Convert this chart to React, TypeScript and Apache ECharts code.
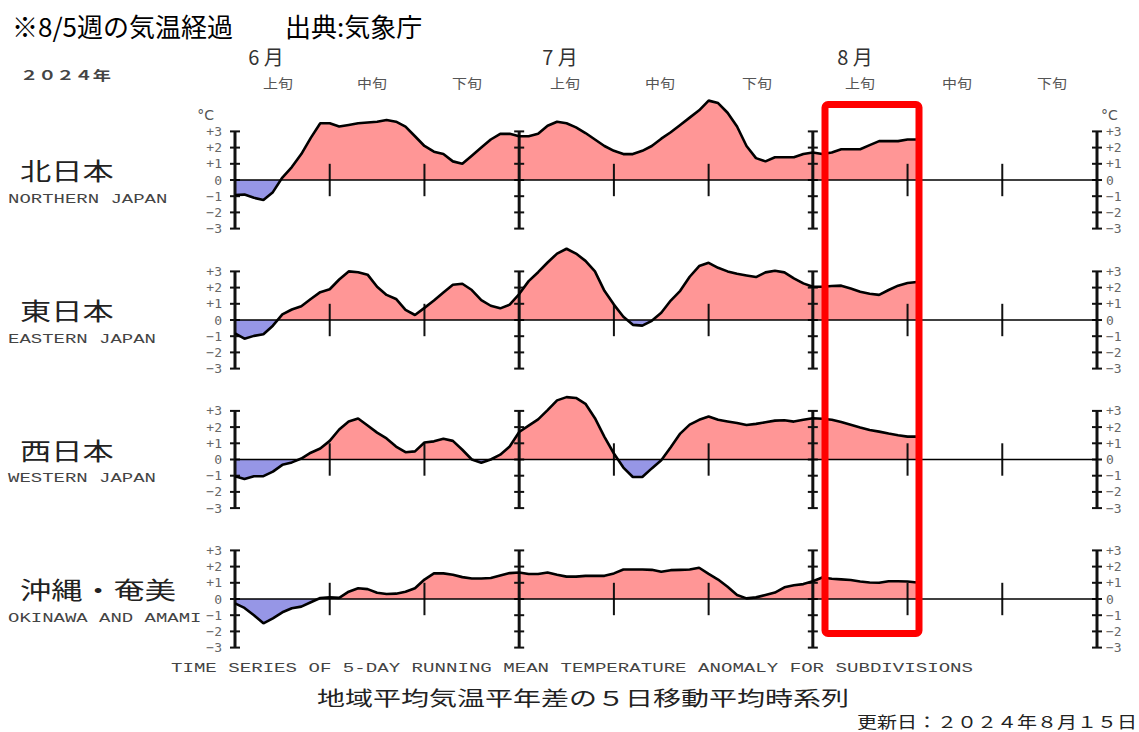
import React, { useEffect, useRef } from "react";
import * as echarts from "echarts";

// ---- data (day 0 = June 1, 5-day running mean temperature anomaly, °C) ----
const regionJa = ["北日本", "東日本", "西日本", "沖縄・奄美"];
const regionEn = ["NORTHERN JAPAN", "EASTERN JAPAN", "WESTERN JAPAN", "OKINAWA AND AMAMI"];

const north = [
  -0.93, -0.9, -1.1, -1.23, -0.75, 0.15, 0.8, 1.6, 2.6, 3.5,
  3.5, 3.3, 3.4, 3.5, 3.55, 3.6, 3.7, 3.6, 3.3, 2.7,
  2.1, 1.75, 1.6, 1.15, 1.0, 1.5, 2.0, 2.5, 2.85, 2.85,
  2.7, 2.7, 2.85, 3.35, 3.6, 3.5, 3.25, 2.9, 2.5, 2.1,
  1.8, 1.6, 1.6, 1.8, 2.1, 2.55, 2.95, 3.4, 3.85, 4.3,
  4.9, 4.75, 4.15, 3.3, 2.1, 1.35, 1.15, 1.4, 1.4, 1.4,
  1.6, 1.7, 1.6, 1.7, 1.9, 1.9, 1.9, 2.15, 2.4, 2.4,
  2.4, 2.5, 2.5,
];
const east = [
  -0.82, -1.15, -0.98, -0.88, -0.35, 0.35, 0.65, 0.85, 1.3, 1.72,
  1.9, 2.5, 3.0, 2.95, 2.8, 2.05, 1.55, 1.3, 0.62, 0.31,
  0.75, 1.2, 1.7, 2.18, 2.24, 1.85, 1.23, 0.88, 0.72, 0.95,
  1.6, 2.4, 2.95, 3.55, 4.1, 4.4, 4.1, 3.65, 3.0, 1.8,
  0.95, 0.2, -0.3, -0.35, -0.05, 0.45, 1.2, 1.8, 2.67, 3.33,
  3.53, 3.22, 3.0, 2.85, 2.75, 2.65, 2.94, 3.04, 2.94, 2.57,
  2.26, 2.05, 2.05, 2.1, 2.12, 1.95, 1.75, 1.62, 1.55, 1.85,
  2.12, 2.28, 2.35,
];
const west = [
  -1.03, -1.2, -1.03, -1.03, -0.75, -0.33, -0.18, 0.06, 0.42, 0.68,
  1.15, 1.85, 2.35, 2.53, 2.1, 1.66, 1.3, 0.8, 0.45, 0.5,
  1.05, 1.12, 1.28, 1.15, 0.6, 0.0, -0.2, 0.0, 0.3, 0.8,
  1.7, 2.09, 2.48, 3.05, 3.65, 3.85, 3.8, 3.44, 2.55, 1.4,
  0.37, -0.5, -1.08, -1.08, -0.55, -0.05, 0.75, 1.6, 2.15, 2.45,
  2.65, 2.45, 2.35, 2.25, 2.13, 2.2, 2.3, 2.4, 2.42, 2.34,
  2.45, 2.55, 2.52, 2.45, 2.32, 2.15, 1.98, 1.82, 1.72, 1.6,
  1.5, 1.41, 1.41,
];
const okinawa = [
  -0.27, -0.55, -1.0, -1.5, -1.19, -0.82, -0.57, -0.47, -0.2, 0.06,
  0.1, 0.07, 0.45, 0.66, 0.61, 0.39, 0.31, 0.33, 0.45, 0.66,
  1.2, 1.58, 1.58, 1.5, 1.35, 1.27, 1.27, 1.3, 1.45, 1.6,
  1.64, 1.54, 1.54, 1.64, 1.5, 1.38, 1.38, 1.43, 1.43, 1.43,
  1.58, 1.82, 1.82, 1.82, 1.8, 1.68, 1.78, 1.8, 1.82, 1.93,
  1.55, 1.2, 0.76, 0.25, 0.04, 0.1, 0.25, 0.4, 0.72, 0.85,
  0.92, 1.1, 1.33, 1.25, 1.21, 1.17, 1.08, 1.02, 1.0, 1.1,
  1.1, 1.08, 1.02,
];

const monthNames = ["6 月", "7 月", "8 月"];
const dekadNames = ["上旬", "中旬", "下旬"];
const monthAxisDays = [0, 30, 61, 91];
const dekadTickDays = [10, 20, 40, 50, 71, 81];
const yTickValues = [-3, -2, -1, 0, 1, 2, 3];

// ---- layout / style constants ----
const PLOT_LEFT = 235;
const PLOT_WIDTH = 862;
const PANEL_ZERO_Y = [180, 320, 459.5, 599];
const HALF_H = 48.6;
const RED = "#FF9696";
const BLUE = "#9696E6";
const MONO = '"Liberation Mono", "DejaVu Sans Mono", monospace';
const CJK = '"Noto Sans CJK JP", sans-serif';

const fmtY = (v: number) => (v > 0 ? "+" + v : v < 0 ? "\u2212" + -v : "0");

function axisRender(params: any, api: any) {
  if (!api || !api.coord) return null;
  const x = api.value(0);
  const kind = api.value(1);
  if (kind === 2) {
    const a = api.coord([monthAxisDays[0], 0]);
    const b = api.coord([monthAxisDays[monthAxisDays.length - 1], 0]);
    return {
      type: "line",
      shape: { x1: a[0], y1: a[1], x2: b[0], y2: b[1] },
      style: { stroke: "#000", lineWidth: 1.6 },
    };
  }
  if (kind === 1) {
    const a = api.coord([x, 1]);
    const b = api.coord([x, -1]);
    return {
      type: "line",
      shape: { x1: a[0], y1: a[1], x2: b[0], y2: b[1] },
      style: { stroke: "#111", lineWidth: 2 },
    };
  }
  const top = api.coord([x, 3]);
  const bot = api.coord([x, -3]);
  const children: any[] = [
    {
      type: "line",
      shape: { x1: top[0], y1: top[1], x2: bot[0], y2: bot[1] },
      style: { stroke: "#111", lineWidth: 3 },
    },
  ];
  yTickValues.forEach((v) => {
    const p = api.coord([x, v]);
    children.push({
      type: "line",
      shape: { x1: p[0] - 5, y1: p[1], x2: p[0] + 5, y2: p[1] },
      style: { stroke: "#111", lineWidth: 2 },
    });
  });
  return { type: "group", children };
}

function text(x: number, y: number, t: string, o: any = {}) {
  const { scaleX, ...style } = o;
  return {
    type: "text",
    x,
    y,
    scaleX: scaleX ?? 1,
    z: 100,
    style: {
      text: t,
      fill: "#222",
      fontSize: 14,
      fontFamily: CJK,
      textAlign: "left",
      align: "left",
      textVerticalAlign: "middle",
      verticalAlign: "middle",
      ...style,
      ...(style.textAlign ? { align: style.textAlign } : {}),
    },
  };
}

export default function App() {
  const ref = useRef<HTMLDivElement>(null);
  useEffect(() => {
    if (!ref.current) return;
    const chart = echarts.init(ref.current, undefined, { renderer: "svg" });
    const regions = [north, east, west, okinawa];

    const grid: any[] = [];
    const xAxis: any[] = [];
    const yAxis: any[] = [];
    const series: any[] = [];
    const areaIdx: number[] = [];

    regions.forEach((vals, i) => {
      grid.push({
        left: PLOT_LEFT,
        width: PLOT_WIDTH,
        top: PANEL_ZERO_Y[i] - HALF_H,
        height: HALF_H * 2,
      });
      xAxis.push({
        type: "value",
        gridIndex: i,
        min: monthAxisDays[0],
        max: monthAxisDays[monthAxisDays.length - 1],
        axisLine: { show: false },
        axisTick: { show: false },
        axisLabel: { show: false },
        splitLine: { show: false },
      });
      const yBase = {
        type: "value",
        gridIndex: i,
        min: -3,
        max: 3,
        interval: 1,
        axisLine: { show: false },
        axisTick: { show: false },
        splitLine: { show: false },
      };
      yAxis.push({
        ...yBase,
        position: "left",
        axisLabel: {
          formatter: fmtY,
          color: "#666",
          fontFamily: '"DejaVu Sans Mono", monospace',
          fontSize: 13,
          margin: 13,
        },
      });
      yAxis.push({
        ...yBase,
        position: "right",
        axisLabel: {
          formatter: fmtY,
          color: "#666",
          fontFamily: '"DejaVu Sans Mono", monospace',
          fontSize: 13,
          margin: 9,
        },
      });
      const data = vals.map((v, d) => [d, v]);
      areaIdx.push(series.length);
      series.push({
        type: "line",
        coordinateSystem: "cartesian2d",
        xAxisIndex: i,
        yAxisIndex: 2 * i,
        data,
        symbol: "none",
        showSymbol: false,
        clip: false,
        lineStyle: { width: 0 },
        areaStyle: { opacity: 1 },
        z: 1,
        silent: true,
      });
      series.push({
        type: "line",
        coordinateSystem: "cartesian2d",
        xAxisIndex: i,
        yAxisIndex: 2 * i,
        data,
        symbol: "none",
        showSymbol: false,
        clip: false,
        lineStyle: { color: "#000", width: 2.6 },
        z: 4,
        silent: true,
      });
      series.push({
        type: "custom",
        coordinateSystem: "cartesian2d",
        xAxisIndex: i,
        yAxisIndex: 2 * i,
        renderItem: axisRender,
        encode: { x: 0, y: 1 },
        data: [
          ...monthAxisDays.map((d) => [d, 0]),
          ...dekadTickDays.map((d) => [d, 1]),
          [monthAxisDays[0], 2],
        ],
        z: 3,
        silent: true,
      });
    });

    const graphic: any[] = [];
    graphic.push(
      text(12, 25, "※8/5週の気温経過　　出典:気象庁", { fontSize: 26, fill: "#000" })
    );
    graphic.push(
      text(20, 75, "２０２４年", { fontSize: 13, scaleX: 1.4, fill: "#444", fontWeight: "bold" })
    );
    const monthX = [266, 560, 855];
    monthNames.forEach((m, i) =>
      graphic.push(text(monthX[i], 56, m, { fontSize: 20, textAlign: "center", fill: "#333" }))
    );
    const dekadX = [278, 372, 467, 565, 660, 757, 860, 957, 1052];
    dekadX.forEach((x, i) =>
      graphic.push(
        text(x, 82, dekadNames[i % 3], {
          fontSize: 13,
          textAlign: "center",
          fill: "#555",
          scaleX: 1.15,
        })
      )
    );
    graphic.push(
      text(214, 115, "°C", { fontSize: 14, textAlign: "right", fill: "#555", fontFamily: '"DejaVu Sans", sans-serif' })
    );
    graphic.push(
      text(1101, 115, "°C", { fontSize: 14, fill: "#555", fontFamily: '"DejaVu Sans", sans-serif' })
    );
    regionJa.forEach((n, i) => {
      graphic.push(text(20, PANEL_ZERO_Y[i] - 10, n, { fontSize: 24, scaleX: 1.3, fill: "#222" }));
      graphic.push(
        text(8, PANEL_ZERO_Y[i] + 19, regionEn[i], {
          fontSize: 13,
          scaleX: 1.46,
          fill: "#444",
          fontFamily: MONO,
        })
      );
    });
    graphic.push(
      text(572, 668, "TIME SERIES OF 5-DAY RUNNING MEAN TEMPERATURE ANOMALY FOR SUBDIVISIONS", {
        fontSize: 13,
        scaleX: 1.47,
        textAlign: "center",
        fill: "#444",
        fontFamily: MONO,
      })
    );
    graphic.push(
      text(583, 697, "地域平均気温平年差の５日移動平均時系列", {
        fontSize: 20,
        scaleX: 1.4,
        textAlign: "center",
        fill: "#222",
      })
    );
    graphic.push(
      text(1137, 721, "更新日：２０２４年８月１５日", {
        fontSize: 16,
        scaleX: 1.25,
        textAlign: "right",
        fill: "#222",
      })
    );
    graphic.push({
      type: "rect",
      z: 200,
      shape: { x: 825, y: 104.5, width: 94, height: 529, r: 3 },
      style: { fill: "none", stroke: "#FF0000", lineWidth: 7 },
    });

    chart.setOption({
      animation: false,
      backgroundColor: "#fff",
      grid,
      xAxis,
      yAxis,
      visualMap: {
        type: "piecewise",
        show: false,
        dimension: 1,
        seriesIndex: areaIdx,
        pieces: [
          { min: -10, max: 0, color: BLUE },
          { min: 0, max: 10, color: RED },
        ],
        outOfRange: { color: RED },
      },
      series,
      graphic,
    });
    return () => chart.dispose();
  }, []);
  return (
    <div
      ref={ref}
      style={{ position: "absolute", left: 0, top: 0, width: 1139, height: 732 }}
    />
  );
}
